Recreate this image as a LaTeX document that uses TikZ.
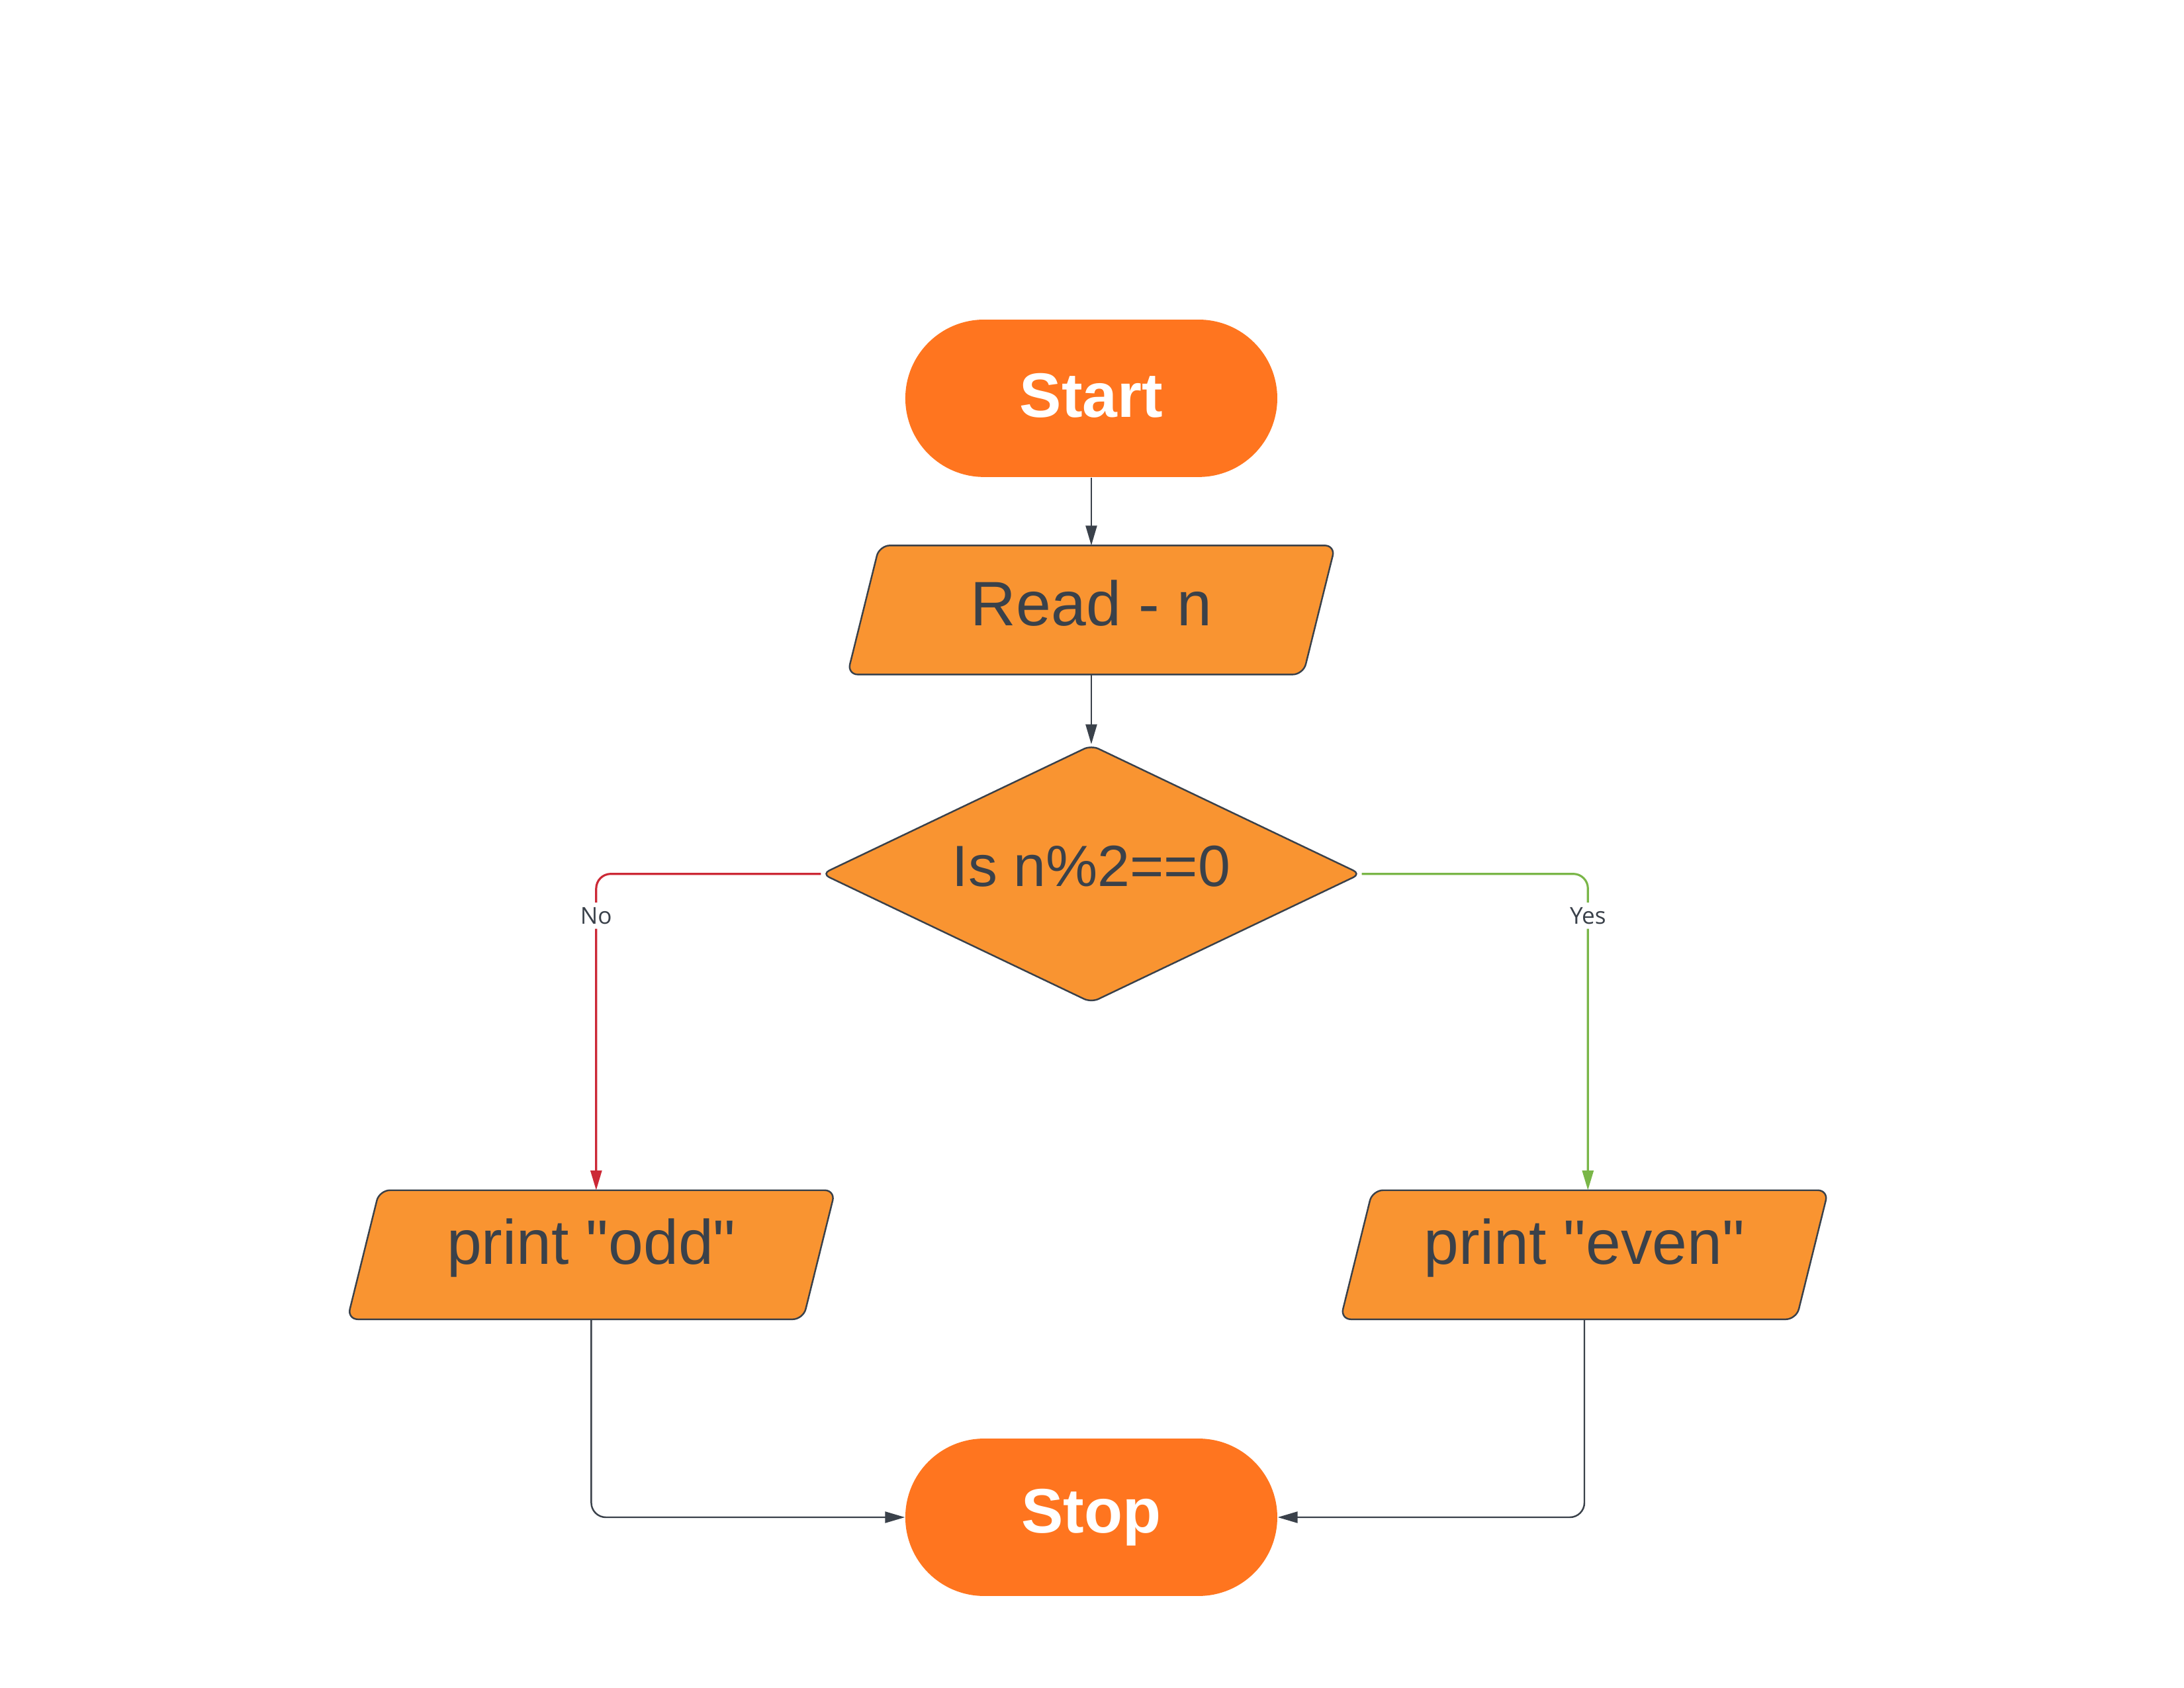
\documentclass[tikz,border=0pt]{standalone}
\usepackage{fontspec}
\setmainfont{Liberation Sans}[Ligatures=TeXOff]
\newfontfamily\lblfont{Open Sans}
\usetikzlibrary{shapes.geometric,shapes.misc,arrows.meta}
\definecolor{termfill}{RGB}{255,117,31}
\definecolor{iofill}{RGB}{249,148,49}
\definecolor{ink}{RGB}{58,65,74}
\definecolor{nored}{RGB}{204,41,54}
\definecolor{yesgreen}{RGB}{122,182,72}
\tikzset{
  terminal/.style={rounded rectangle, fill=termfill, draw=none, minimum width=5.619cm, minimum height=2.378cm, inner sep=0pt, text=white, font=\fontsize{27}{32}\selectfont\bfseries},
  iobox/.style={rectangle, draw=none, minimum width=6.872cm, minimum height=1.936cm, inner sep=0pt, text=ink, font=\fontsize{27}{32}\selectfont},
  iotext/.style={text=ink, inner sep=0pt, font=\fontsize{27}{32}\selectfont},
  ioshape/.style={draw=ink, line width=0.7pt, fill=iofill, rounded corners=0.16cm},
  decision/.style={diamond, aspect=2, draw=ink, line width=0.7pt, fill=iofill, rounded corners=0.12cm, minimum width=8.145cm, minimum height=3.894cm, inner sep=0pt},
  dectext/.style={text=ink, inner sep=0pt, font=\fontsize{25}{30}\selectfont},
  conn/.style={draw=ink, line width=0.7pt, rounded corners=0.22cm, -{Triangle[length=0.3cm,width=0.17cm]}},
  lbl/.style={fill=white, text=ink, inner sep=2pt, font=\lblfont\fontsize{10}{12}\selectfont},
}
\newcommand\ioparallel[1]{%
  \path[ioshape] ([xshift=-0.242cm]#1.south west) -- ([xshift=0.242cm]#1.north west) -- ([xshift=0.242cm]#1.north east) -- ([xshift=-0.242cm]#1.south east) -- cycle;}
\begin{document}
\begin{tikzpicture}[x=0.021046cm, y=-0.021046cm]
\useasboundingbox (0,0) rectangle (1568,1212);
% nodes
\node[terminal] (start) at (783.5,286) {\raisebox{0.1cm}{Start}};
\node[iobox] (read) at (783.5,438) {};
\ioparallel{read}
\node[iotext] (readtext) at (783.5,433) {Read - n};
\node[decision] (dec) at (783.5,627.5) {};
\node[dectext] (dectxt) at (783.5,622) {Is n\%2==0};
\node[iobox] (odd) at (424.5,901) {};
\ioparallel{odd}
\node[iotext] (oddtext) at (424.5,896) {print "odd"};
\node[iobox] (even) at (1137.5,901) {};
\ioparallel{even}
\node[iotext] (eventext) at (1137.5,896) {print "even"};
\node[terminal] (stop) at (783.5,1089.5) {\raisebox{0.1cm}{Stop}};
% connectors
\draw[conn] (start.south) -- (read.north);
\draw[conn] (read.south) -- (dec.north);
\draw[conn, draw=nored, line width=0.9pt] (dec.west) -| node[lbl, pos=0.566] {No} ([xshift=0.074cm]odd.north);
\draw[conn, draw=yesgreen, line width=0.9pt] (dec.east) -| node[lbl, pos=0.566] {Yes} ([xshift=0.053cm]even.north);
\draw[conn] (odd.south) |- (stop.west);
\draw[conn] (even.south) |- (stop.east);
\end{tikzpicture}
\end{document}
